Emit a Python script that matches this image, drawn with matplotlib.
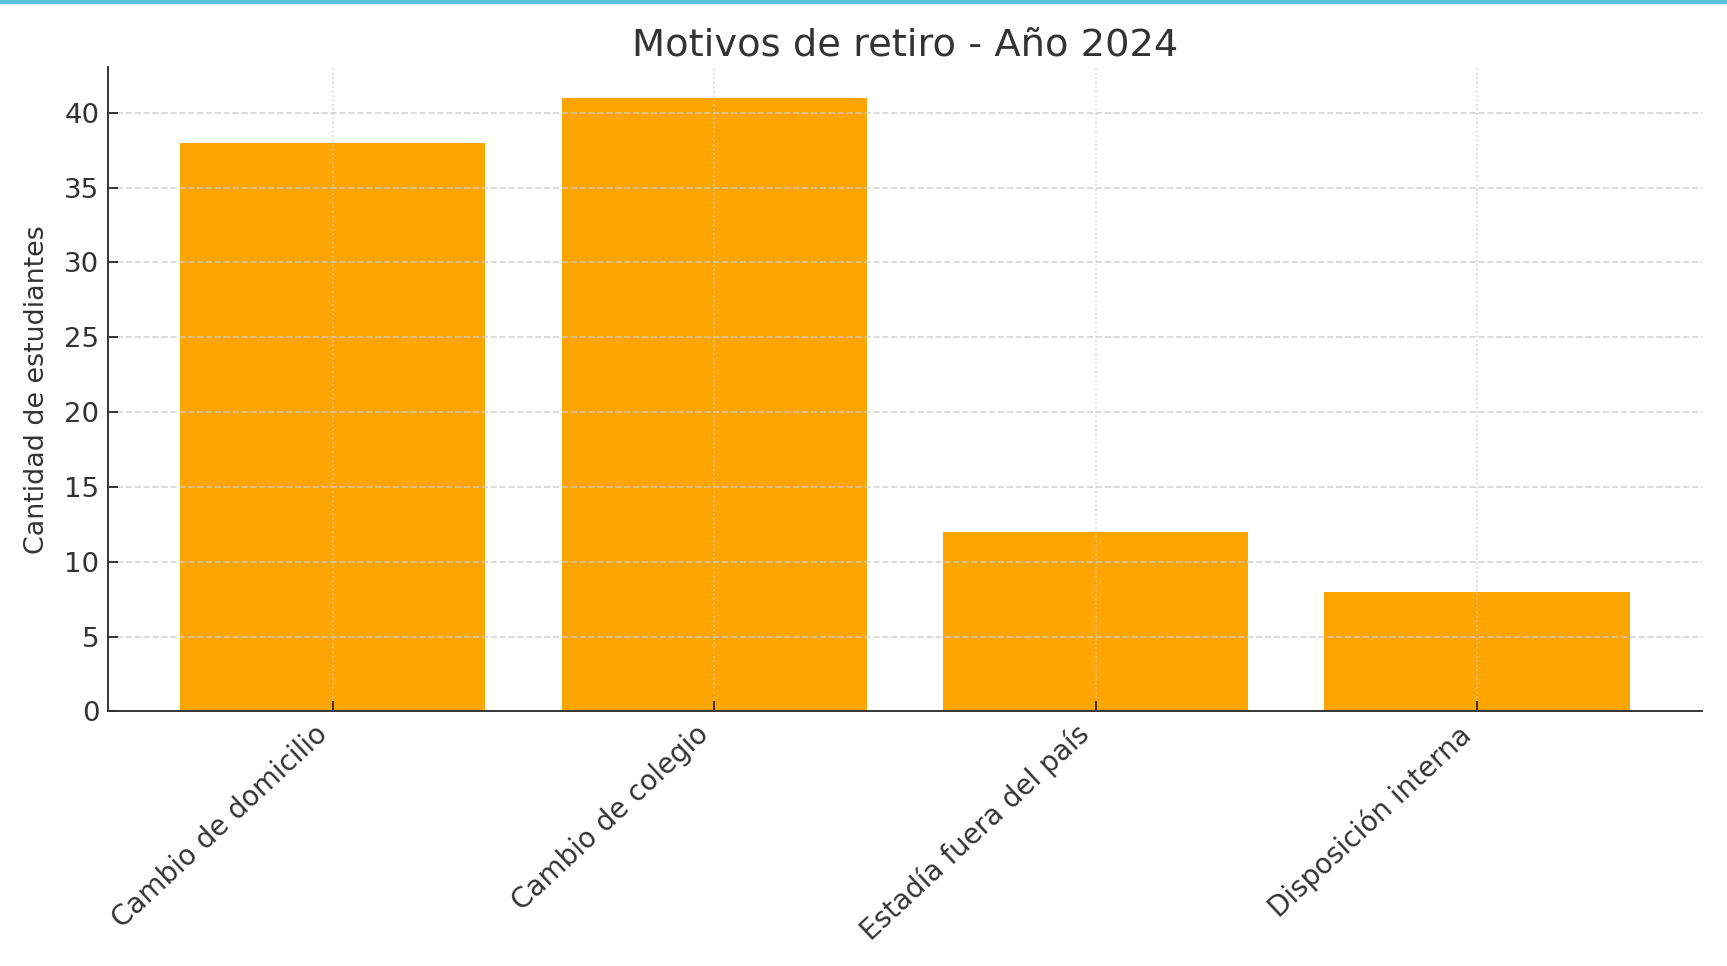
import matplotlib
matplotlib.use("Agg")
import matplotlib.pyplot as plt
from matplotlib.patches import Rectangle

motivos = ["Cambio de domicilio", "Cambio de colegio", "Estadía fuera del país", "Disposición interna"]
cantidades = [38, 41, 12, 8]

TEXT = "#333333"
plt.rcParams["font.family"] = ["DejaVu Sans"]

fig = plt.figure(figsize=(10, 966 / 172.7), dpi=172.7)
ax = fig.add_axes([0.0625, 0.2635, 0.923, 0.667])

ax.bar(motivos, cantidades, color="#FFA500", width=0.8, zorder=2)

ax.set_title("Motivos de retiro - Año 2024", fontsize=16, color=TEXT, pad=5)
ax.set_ylabel("Cantidad de estudiantes", fontsize=11.2, color=TEXT, labelpad=6)

ax.set_yticks(range(0, 41, 5))
ax.tick_params(axis="both", direction="in", colors=TEXT, labelsize=11.5, length=4)
plt.setp(ax.get_xticklabels(), rotation=43, ha="right", fontsize=11.6)

ax.grid(True, axis="y", linestyle="--", color="#cccccc", linewidth=0.7, alpha=0.8, zorder=3)
ax.grid(True, axis="x", linestyle=":", color="#cccccc", linewidth=0.7, alpha=0.8, zorder=3)
ax.set_axisbelow(False)

for side in ["top", "right"]:
    ax.spines[side].set_visible(False)
for side in ["left", "bottom"]:
    ax.spines[side].set_color(TEXT)
    ax.spines[side].set_zorder(4)

# cyan strip along the top edge
fig.add_artist(Rectangle((0, 1 - 3 / 966), 1, 3 / 966, transform=fig.transFigure,
                         color="#5bc3de", zorder=10))

fig.savefig("out.png", dpi=172.7)
